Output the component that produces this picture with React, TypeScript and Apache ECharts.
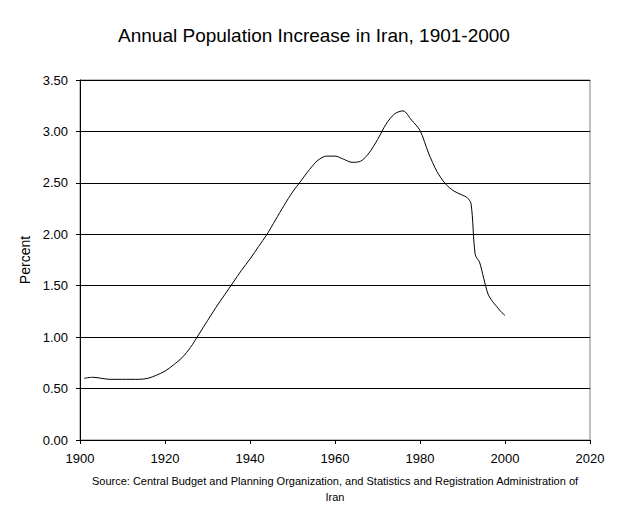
import React, { useEffect, useRef } from "react";
import * as echarts from "echarts";

const years = [
  1901, 1903, 1905, 1907, 1910, 1914, 1916, 1918, 1920, 1922, 1924, 1926, 1928, 1930,
  1932, 1934, 1936, 1938, 1940, 1942, 1944, 1946, 1948, 1950, 1952, 1954, 1956, 1958,
  1960, 1962, 1964, 1966, 1968, 1970, 1972, 1974, 1976, 1978, 1980, 1982, 1984, 1986,
  1988, 1990, 1991, 1992, 1993, 1994, 1995, 1996, 1997, 1998, 1999, 2000,
];
const percent = [
  0.6, 0.61, 0.6, 0.59, 0.59, 0.59, 0.6, 0.63, 0.67, 0.73, 0.8, 0.9, 1.03, 1.16,
  1.29, 1.41, 1.53, 1.65, 1.76, 1.88, 2.0, 2.14, 2.28, 2.41, 2.52, 2.63, 2.72, 2.76,
  2.76, 2.73, 2.7, 2.71, 2.79, 2.92, 3.07, 3.17, 3.2, 3.11, 3.01, 2.79, 2.61, 2.49,
  2.42, 2.38, 2.36, 2.3, 1.8, 1.73, 1.57, 1.42, 1.35, 1.3, 1.25, 1.21,
];

const titleText = "Annual Population Increase in Iran, 1901-2000";
const sourceLines = [
  "Source: Central Budget and Planning Organization, and Statistics and Registration Administration of",
  "Iran",
];
const yName = "Percent";

export default function App() {
  const ref = useRef<HTMLDivElement>(null);
  useEffect(() => {
    if (!ref.current) return;
    const chart = echarts.init(ref.current, null, { renderer: "svg" });
    const font = "Arial, 'Liberation Sans', sans-serif";
    chart.setOption({
      animation: false,
      backgroundColor: "#fff",
      textStyle: { fontFamily: font, color: "#000" },
      title: [
        {
          text: titleText,
          left: 301,
          top: 13,
          textAlign: "center",
          textStyle: { fontSize: 19, fontWeight: "normal", color: "#000", fontFamily: font },
        },
      ],
      graphic: sourceLines.map((t, i) => ({
        type: "text",
        x: 327,
        y: 467 + i * 16,
        style: {
          text: t,
          fill: "#000",
          font: `11px ${font}`,
          textAlign: "center",
          textVerticalAlign: "top",
        },
      })),
      grid: { left: 72, right: 23, top: 72, bottom: 75, show: true, borderColor: "#808080", borderWidth: 1 },
      xAxis: {
        type: "value",
        min: 1900,
        max: 2020,
        interval: 20,
        axisLine: { show: true, lineStyle: { color: "#000" } },
        axisTick: { show: true, length: 4, lineStyle: { color: "#000" } },
        axisLabel: {
          color: "#000",
          fontSize: 13,
          margin: 12,
          fontFamily: font,
          formatter: (v: number) => String(v),
        },
        splitLine: { show: false },
      },
      yAxis: {
        type: "value",
        min: 0,
        max: 3.5,
        interval: 0.5,
        name: yName,
        nameLocation: "middle",
        nameGap: 44,
        nameRotate: 90,
        nameTextStyle: { fontSize: 14, color: "#000", fontFamily: font },
        axisLine: { show: true, lineStyle: { color: "#000" } },
        axisTick: { show: true, length: 4, lineStyle: { color: "#000" } },
        axisLabel: {
          color: "#000",
          fontSize: 13,
          margin: 12,
          fontFamily: font,
          formatter: (v: number) => v.toFixed(2),
        },
        splitLine: { show: true, lineStyle: { color: "#000", width: 1 } },
      },
      series: [
        {
          type: "line",
          data: years.map((y, i) => [y, percent[i]]),
          smooth: 0.3,
          showSymbol: false,
          lineStyle: { color: "#000", width: 1 },
        },
      ],
    });
    return () => chart.dispose();
  }, []);
  return <div ref={ref} style={{ width: 605, height: 507 }} />;
}
